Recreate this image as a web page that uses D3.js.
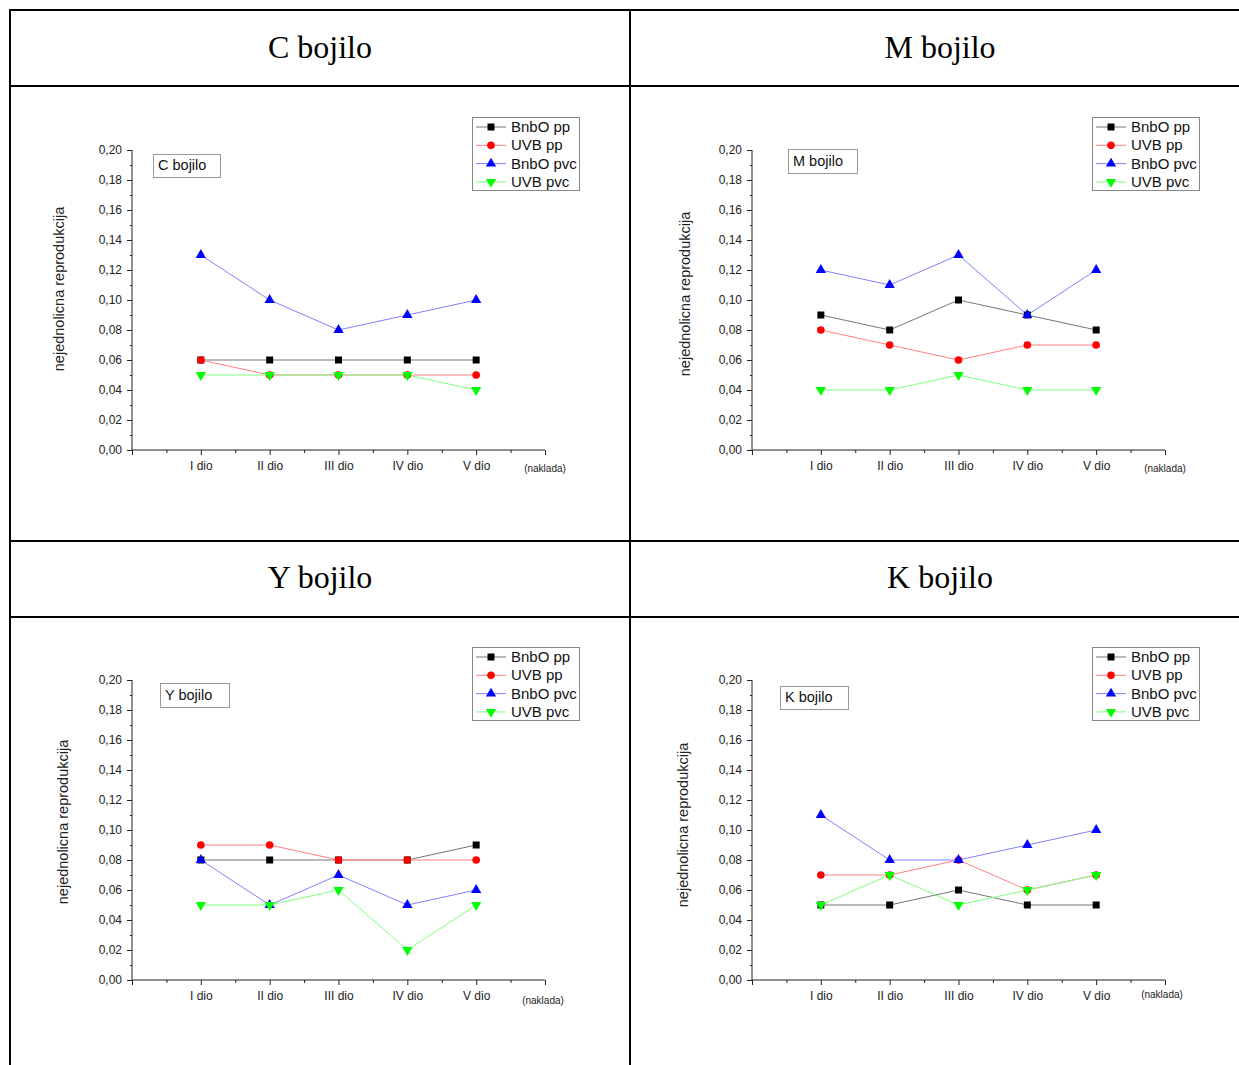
<!DOCTYPE html>
<html>
<head>
<meta charset="utf-8">
<script src="https://cdn.jsdelivr.net/npm/d3@7"></script>
<style>
  html, body { margin: 0; padding: 0; background: #fff; }
  svg { display: block; }
</style>
</head>
<body>
<svg id="chart" width="1239" height="1065"></svg>
<script>
// ---------------- DATA ----------------
const categories = ["I dio", "II dio", "III dio", "IV dio", "V dio"];
const seriesNames = ["BnbO pp", "UVB pp", "BnbO pvc", "UVB pvc"];
const panelTitles = ["C bojilo", "M bojilo", "Y bojilo", "K bojilo"];
const yTickLabels = ["0,00", "0,02", "0,04", "0,06", "0,08", "0,10", "0,12", "0,14", "0,16", "0,18", "0,20"];
const yTickValues = [0, 0.02, 0.04, 0.06, 0.08, 0.10, 0.12, 0.14, 0.16, 0.18, 0.20];
const yMinorValues = [0.01, 0.03, 0.05, 0.07, 0.09, 0.11, 0.13, 0.15, 0.17, 0.19];
const yTitle = "nejednolicna reprodukcija";
const xTitle = "(naklada)";

// C bojilo
const cBnbOpp  = [0.06, 0.06, 0.06, 0.06, 0.06];
const cUVBpp   = [0.06, 0.05, 0.05, 0.05, 0.05];
const cBnbOpvc = [0.13, 0.10, 0.08, 0.09, 0.10];
const cUVBpvc  = [0.05, 0.05, 0.05, 0.05, 0.04];
// M bojilo
const mBnbOpp  = [0.09, 0.08, 0.10, 0.09, 0.08];
const mUVBpp   = [0.08, 0.07, 0.06, 0.07, 0.07];
const mBnbOpvc = [0.12, 0.11, 0.13, 0.09, 0.12];
const mUVBpvc  = [0.04, 0.04, 0.05, 0.04, 0.04];
// Y bojilo
const yBnbOpp  = [0.08, 0.08, 0.08, 0.08, 0.09];
const yUVBpp   = [0.09, 0.09, 0.08, 0.08, 0.08];
const yBnbOpvc = [0.08, 0.05, 0.07, 0.05, 0.06];
const yUVBpvc  = [0.05, 0.05, 0.06, 0.02, 0.05];
// K bojilo
const kBnbOpp  = [0.05, 0.05, 0.06, 0.05, 0.05];
const kUVBpp   = [0.07, 0.07, 0.08, 0.06, 0.07];
const kBnbOpvc = [0.11, 0.08, 0.08, 0.09, 0.10];
const kUVBpvc  = [0.05, 0.07, 0.05, 0.06, 0.07];

const panelData = [
  [cBnbOpp, cUVBpp, cBnbOpvc, cUVBpvc],
  [mBnbOpp, mUVBpp, mBnbOpvc, mUVBpvc],
  [yBnbOpp, yUVBpp, yBnbOpvc, yUVBpvc],
  [kBnbOpp, kUVBpp, kBnbOpvc, kUVBpvc]
];

// ---------------- STYLE / LAYOUT ----------------
const markerColors = ["#000000", "#ff0000", "#0000ff", "#00ff00"];
const lineColors   = ["#777777", "#ff8080", "#8080ff", "#80ff80"];
const symbols = [
  {type: d3.symbolSquare, size: 49, rot: 0},
  {type: d3.symbolCircle, size: 46, rot: 0},
  {type: d3.symbolTriangle, size: 46, rot: 0},
  {type: d3.symbolTriangle, size: 46, rot: 180}
];

const panelLayout = [
  {dx: 0,   dy: 0,   inset: [153, 154, 67, 23], naklada: [545, 469], ytitle: [60, 289]},
  {dx: 620, dy: 0,   inset: [788, 149, 69, 24], naklada: [1165, 469], ytitle: [686, 294]},
  {dx: 0,   dy: 530, inset: [160, 683, 69, 24], naklada: [543, 1001], ytitle: [64, 822]},
  {dx: 620, dy: 530, inset: [780, 686, 68, 23], naklada: [1162, 995], ytitle: [684, 825]}
];

const svg = d3.select("#chart");
const sansFont = "'Liberation Sans', Arial, Helvetica, sans-serif";

// ---------------- TABLE FRAME ----------------
const frame = svg.append("g").attr("stroke", "#000").attr("stroke-width", 2).attr("fill", "none");
frame.append("line").attr("x1", 9).attr("x2", 1260).attr("y1", 10).attr("y2", 10);
frame.append("line").attr("x1", 10).attr("x2", 10).attr("y1", 9).attr("y2", 1070);
frame.append("line").attr("x1", 630).attr("x2", 630).attr("y1", 10).attr("y2", 1070);
[86, 541, 617].forEach(y => {
  frame.append("line").attr("x1", 10).attr("x2", 1260).attr("y1", y).attr("y2", y);
});

// Header titles
const headerPos = [[320, 58], [940, 58], [320, 588], [940, 588]];
panelTitles.forEach((t, i) => {
  svg.append("text")
    .attr("x", headerPos[i][0]).attr("y", headerPos[i][1])
    .attr("text-anchor", "middle")
    .attr("font-family", "'Liberation Serif', 'Times New Roman', serif")
    .attr("font-size", 32)
    .attr("fill", "#000")
    .text(t);
});

// ---------------- PANELS ----------------
panelData.forEach((series, pi) => {
  const L = panelLayout[pi];
  const x = d3.scaleLinear().domain([0, 6]).range([132 + L.dx, 545 + L.dx]);
  const y = d3.scaleLinear().domain([0, 0.2]).range([450 + L.dy, 150 + L.dy]);
  const g = svg.append("g");

  // Y axis major
  const yAxis = d3.axisLeft(y).tickValues(yTickValues).tickSize(5).tickPadding(5)
    .tickFormat((d, i) => yTickLabels[i]);
  const ya = g.append("g").attr("transform", `translate(${x(0)},0)`).call(yAxis);
  ya.select(".domain").attr("stroke", "#222").attr("d", `M0,${y(0)}V${y(0.2)}`);
  ya.selectAll(".tick line").attr("stroke", "#222");
  ya.selectAll(".tick text").attr("font-family", sansFont).attr("font-size", 12).attr("fill", "#222");
  // Y minor
  const yMinor = d3.axisLeft(y).tickValues(yMinorValues).tickSize(2).tickFormat("");
  const ym = g.append("g").attr("transform", `translate(${x(0)},0)`).call(yMinor);
  ym.select(".domain").remove();
  ym.selectAll(".tick line").attr("stroke", "#222");

  // X axis major
  const xAxis = d3.axisBottom(x).tickValues([0, 1, 2, 3, 4, 5, 6]).tickSize(5).tickPadding(6)
    .tickFormat(d => (d >= 1 && d <= 5) ? categories[d - 1] : "");
  const xa = g.append("g").attr("transform", `translate(0,${y(0)})`).call(xAxis);
  xa.select(".domain").attr("stroke", "#222").attr("d", `M${x(0)},0H${x(6)}`);
  xa.selectAll(".tick line").attr("stroke", "#222");
  xa.selectAll(".tick text").attr("font-family", sansFont).attr("font-size", 12).attr("fill", "#222");
  // X minor
  const xMinor = d3.axisBottom(x).tickValues([0.5, 1.5, 2.5, 3.5, 4.5, 5.5]).tickSize(3).tickFormat("");
  const xm = g.append("g").attr("transform", `translate(0,${y(0)})`).call(xMinor);
  xm.select(".domain").remove();
  xm.selectAll(".tick line").attr("stroke", "#222");

  // axis titles
  g.append("text")
    .attr("transform", `translate(${L.ytitle[0]},${L.ytitle[1]}) rotate(-90)`)
    .attr("text-anchor", "middle").attr("dominant-baseline", "middle")
    .attr("font-family", sansFont).attr("font-size", 14.5).attr("fill", "#222")
    .text(yTitle);
  g.append("text")
    .attr("x", L.naklada[0]).attr("y", L.naklada[1])
    .attr("text-anchor", "middle").attr("dominant-baseline", "middle")
    .attr("font-family", sansFont).attr("font-size", 10).attr("fill", "#222")
    .text(xTitle);

  // inset label
  g.append("rect")
    .attr("x", L.inset[0] + 0.5).attr("y", L.inset[1] + 0.5)
    .attr("width", L.inset[2]).attr("height", L.inset[3])
    .attr("fill", "#fff").attr("stroke", "#999").attr("stroke-width", 1);
  g.append("text")
    .attr("x", L.inset[0] + 5).attr("y", L.inset[1] + L.inset[3] / 2 + 1)
    .attr("dominant-baseline", "middle")
    .attr("font-family", sansFont).attr("font-size", 14.5).attr("fill", "#111")
    .text(panelTitles[pi]);

  // series lines & markers
  const line = d3.line().x((d, i) => x(i + 1)).y(d => y(d));
  series.forEach((vals, si) => {
    g.append("path").datum(vals)
      .attr("d", line).attr("fill", "none")
      .attr("stroke", lineColors[si]).attr("stroke-width", 1);
  });
  series.forEach((vals, si) => {
    const sym = d3.symbol().type(symbols[si].type).size(symbols[si].size);
    g.selectAll(null).data(vals).enter().append("path")
      .attr("d", sym)
      .attr("transform", (d, i) => `translate(${x(i + 1)},${y(d)}) rotate(${symbols[si].rot})`)
      .attr("fill", markerColors[si]);
  });

  // legend
  const lx = 472 + L.dx, ly = 117 + L.dy;
  g.append("rect").attr("x", lx + 0.5).attr("y", ly + 0.5).attr("width", 107).attr("height", 73)
    .attr("fill", "#fff").attr("stroke", "#888").attr("stroke-width", 1);
  seriesNames.forEach((name, si) => {
    const cy = ly + 10 + si * 18.3;
    g.append("line").attr("x1", lx + 4).attr("x2", lx + 34).attr("y1", cy).attr("y2", cy)
      .attr("stroke", lineColors[si]).attr("stroke-width", 1);
    const sym = d3.symbol().type(symbols[si].type).size(symbols[si].size);
    g.append("path").attr("d", sym)
      .attr("transform", `translate(${lx + 19},${cy}) rotate(${symbols[si].rot})`)
      .attr("fill", markerColors[si]);
    g.append("text").attr("x", lx + 39).attr("y", cy + 1)
      .attr("dominant-baseline", "middle")
      .attr("font-family", sansFont).attr("font-size", 15).attr("fill", "#111")
      .text(name);
  });
});
</script>
</body>
</html>
